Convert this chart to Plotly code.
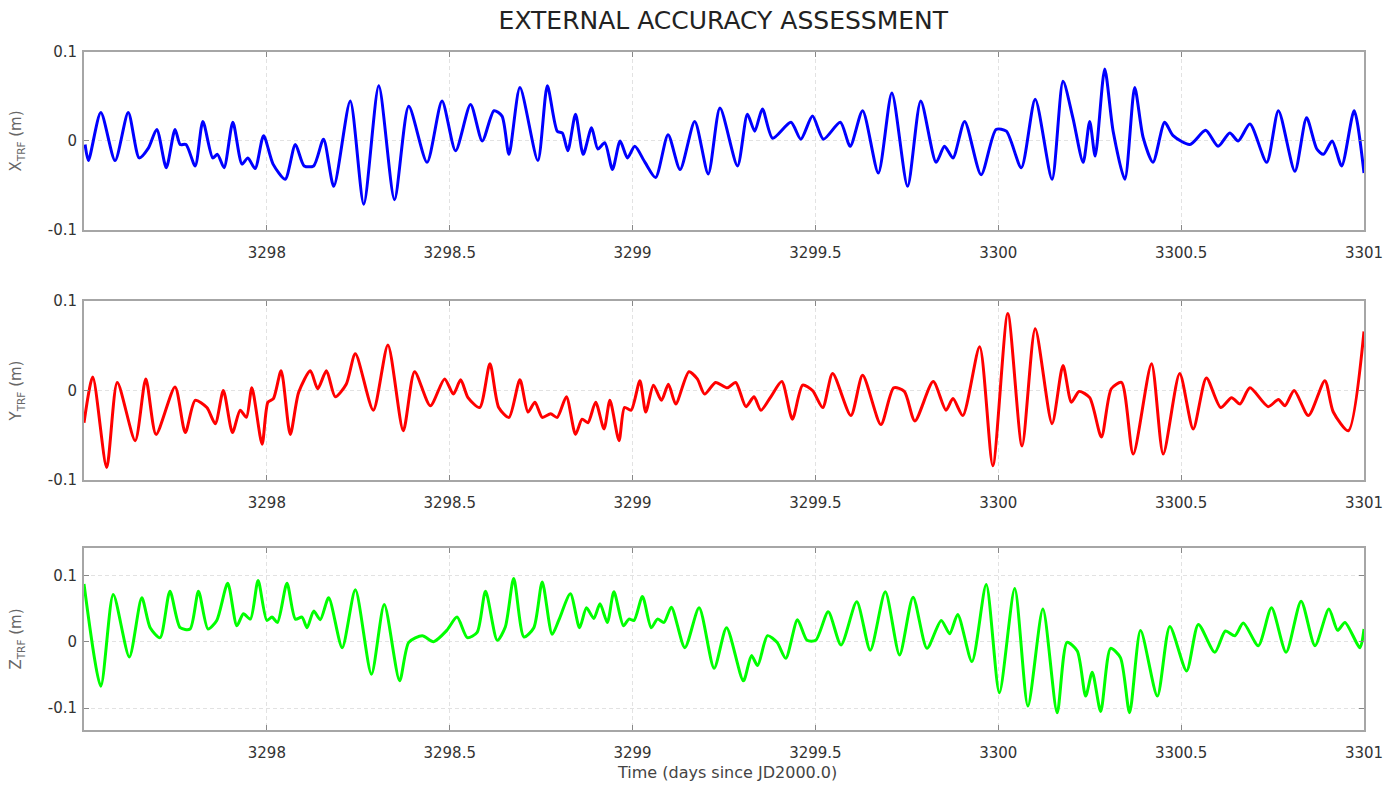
import plotly.graph_objects as go

# ---------------- data (time in days since JD2000.0, residuals in m) ----------------
t_x = [3297.503, 3297.512, 3297.546, 3297.585, 3297.621, 3297.651, 3297.676, 3297.699, 3297.725, 3297.749,
       3297.763, 3297.779, 3297.804, 3297.825, 3297.852, 3297.865, 3297.883, 3297.907, 3297.932, 3297.948,
       3297.968, 3297.991, 3298.017, 3298.050, 3298.078, 3298.102, 3298.128, 3298.155, 3298.183, 3298.228,
       3298.265, 3298.306, 3298.349, 3298.388, 3298.438, 3298.479, 3298.516, 3298.557, 3298.589, 3298.621,
       3298.643, 3298.662, 3298.692, 3298.741, 3298.767, 3298.794, 3298.808, 3298.823, 3298.844, 3298.865,
       3298.888, 3298.905, 3298.924, 3298.945, 3298.966, 3298.986, 3299.006, 3299.034, 3299.063, 3299.097,
       3299.130, 3299.170, 3299.207, 3299.239, 3299.287, 3299.314, 3299.334, 3299.355, 3299.383, 3299.433,
       3299.460, 3299.492, 3299.522, 3299.568, 3299.595, 3299.629, 3299.672, 3299.709, 3299.752, 3299.788,
       3299.830, 3299.853, 3299.876, 3299.908, 3299.953, 3299.994, 3300.022, 3300.063, 3300.101, 3300.147,
       3300.177, 3300.204, 3300.232, 3300.250, 3300.265, 3300.291, 3300.314, 3300.346, 3300.373, 3300.396,
       3300.423, 3300.455, 3300.478, 3300.524, 3300.567, 3300.601, 3300.633, 3300.656, 3300.688, 3300.734,
       3300.766, 3300.811, 3300.843, 3300.871, 3300.889, 3300.913, 3300.939, 3300.973, 3301.000]
x_trf = [-0.004, -0.022, 0.032, -0.022, 0.032, -0.019, -0.008, 0.013, -0.030, 0.013,
         -0.004, -0.004, -0.028, 0.022, -0.019, -0.015, -0.030, 0.021, -0.026, -0.019,
         -0.031, 0.006, -0.026, -0.043, -0.004, -0.028, -0.028, 0.002, -0.051, 0.045,
         -0.071, 0.062, -0.066, 0.039, -0.024, 0.045, -0.011, 0.041, 0.000, 0.034,
         0.028, -0.015, 0.060, -0.022, 0.062, 0.011, 0.009, -0.011, 0.030, -0.015,
         0.015, -0.009, -0.002, -0.032, 0.000, -0.019, -0.006, -0.024, -0.041, 0.007,
         -0.032, 0.022, -0.037, 0.037, -0.028, 0.030, 0.011, 0.036, 0.003, 0.021,
         0.002, 0.028, 0.002, 0.021, -0.006, 0.034, -0.036, 0.054, -0.051, 0.045,
         -0.024, -0.006, -0.019, 0.022, -0.038, 0.013, 0.011, -0.030, 0.047, -0.043,
         0.067, 0.026, -0.024, 0.022, -0.017, 0.081, 0.011, -0.043, 0.060, 0.004,
         -0.024, 0.021, 0.006, -0.004, 0.012, -0.006, 0.009, 0.000, 0.019, -0.024,
         0.034, -0.034, 0.026, -0.009, -0.015, 0.000, -0.028, 0.034, -0.036]

t_y = [3297.500, 3297.524, 3297.562, 3297.591, 3297.640, 3297.669, 3297.697, 3297.749, 3297.777, 3297.804,
       3297.836, 3297.859, 3297.881, 3297.906, 3297.927, 3297.944, 3297.959, 3297.987, 3298.003, 3298.018,
       3298.039, 3298.064, 3298.087, 3298.119, 3298.139, 3298.163, 3298.187, 3298.217, 3298.242, 3298.291,
       3298.331, 3298.373, 3298.404, 3298.447, 3298.486, 3298.510, 3298.530, 3298.550, 3298.582, 3298.610,
       3298.634, 3298.662, 3298.692, 3298.714, 3298.733, 3298.753, 3298.776, 3298.794, 3298.819, 3298.844,
       3298.862, 3298.878, 3298.899, 3298.922, 3298.938, 3298.963, 3298.978, 3298.996, 3299.020, 3299.036,
       3299.057, 3299.079, 3299.098, 3299.118, 3299.154, 3299.177, 3299.197, 3299.227, 3299.259, 3299.282,
       3299.310, 3299.332, 3299.351, 3299.378, 3299.408, 3299.437, 3299.465, 3299.492, 3299.520, 3299.547,
       3299.597, 3299.629, 3299.679, 3299.714, 3299.743, 3299.772, 3299.822, 3299.857, 3299.876, 3299.903,
       3299.949, 3299.985, 3300.026, 3300.065, 3300.101, 3300.147, 3300.177, 3300.200, 3300.221, 3300.250,
       3300.282, 3300.309, 3300.337, 3300.369, 3300.419, 3300.451, 3300.496, 3300.533, 3300.569, 3300.608,
       3300.638, 3300.661, 3300.688, 3300.738, 3300.766, 3300.784, 3300.809, 3300.848, 3300.893, 3300.916,
       3300.957, 3301.000]
y_trf = [-0.036, 0.015, -0.086, 0.009, -0.056, 0.013, -0.049, 0.004, -0.047, -0.011,
         -0.019, -0.037, 0.000, -0.047, -0.022, -0.030, 0.003, -0.060, -0.013, -0.009,
         0.022, -0.049, -0.002, 0.022, 0.002, 0.022, -0.007, 0.007, 0.041, -0.022,
         0.051, -0.045, 0.021, -0.017, 0.013, -0.004, 0.012, -0.008, -0.019, 0.030,
         -0.019, -0.030, 0.012, -0.024, -0.013, -0.030, -0.026, -0.030, -0.007, -0.049,
         -0.032, -0.036, -0.013, -0.043, -0.011, -0.056, -0.019, -0.022, 0.011, -0.024,
         0.006, -0.011, 0.007, -0.015, 0.021, 0.013, -0.004, 0.009, 0.003, 0.009,
         -0.018, -0.007, -0.022, -0.007, 0.010, -0.032, 0.006, 0.000, -0.019, 0.019,
         -0.028, 0.017, -0.038, 0.003, -0.001, -0.034, 0.010, -0.022, -0.009, -0.028,
         0.049, -0.084, 0.086, -0.062, 0.069, -0.037, 0.028, -0.013, -0.001, -0.008,
         -0.052, 0.002, 0.009, -0.071, 0.030, -0.071, 0.019, -0.043, 0.014, -0.019,
         -0.008, -0.015, 0.003, -0.018, -0.010, -0.017, 0.000, -0.028, 0.011, -0.024,
         -0.045, 0.066]

t_z = [3297.500, 3297.546, 3297.580, 3297.624, 3297.658, 3297.681, 3297.708, 3297.735, 3297.763, 3297.790,
       3297.813, 3297.839, 3297.863, 3297.893, 3297.918, 3297.936, 3297.955, 3297.976, 3298.000, 3298.014,
       3298.029, 3298.055, 3298.078, 3298.096, 3298.110, 3298.128, 3298.146, 3298.169, 3298.206, 3298.242,
       3298.286, 3298.321, 3298.363, 3298.388, 3298.425, 3298.456, 3298.492, 3298.520, 3298.548, 3298.575,
       3298.598, 3298.630, 3298.652, 3298.675, 3298.703, 3298.730, 3298.753, 3298.780, 3298.798, 3298.830,
       3298.855, 3298.874, 3298.894, 3298.911, 3298.931, 3298.949, 3298.975, 3298.990, 3299.004, 3299.027,
       3299.051, 3299.068, 3299.086, 3299.106, 3299.143, 3299.182, 3299.223, 3299.257, 3299.303, 3299.325,
       3299.342, 3299.369, 3299.395, 3299.419, 3299.451, 3299.477, 3299.501, 3299.535, 3299.570, 3299.613,
       3299.650, 3299.691, 3299.730, 3299.767, 3299.805, 3299.844, 3299.867, 3299.889, 3299.928, 3299.967,
       3300.003, 3300.045, 3300.081, 3300.122, 3300.161, 3300.188, 3300.216, 3300.239, 3300.257, 3300.280,
       3300.307, 3300.334, 3300.359, 3300.389, 3300.435, 3300.469, 3300.515, 3300.547, 3300.592, 3300.621,
       3300.647, 3300.670, 3300.711, 3300.747, 3300.787, 3300.828, 3300.866, 3300.904, 3300.928, 3300.948,
       3300.989, 3301.000]
z_trf = [0.087, -0.067, 0.071, -0.023, 0.066, 0.021, 0.006, 0.076, 0.021, 0.019,
         0.076, 0.019, 0.032, 0.088, 0.024, 0.042, 0.034, 0.092, 0.032, 0.037,
         0.029, 0.088, 0.034, 0.037, 0.021, 0.046, 0.033, 0.066, -0.009, 0.078,
         -0.049, 0.056, -0.059, -0.001, 0.009, 0.000, 0.017, 0.037, 0.006, 0.014,
         0.076, 0.002, 0.022, 0.095, 0.007, 0.021, 0.090, 0.011, 0.032, 0.072,
         0.021, 0.051, 0.035, 0.057, 0.029, 0.075, 0.024, 0.034, 0.032, 0.068,
         0.021, 0.034, 0.029, 0.052, -0.009, 0.051, -0.040, 0.021, -0.059, -0.021,
         -0.036, 0.009, -0.001, -0.025, 0.033, 0.002, 0.002, 0.045, -0.005, 0.060,
         -0.013, 0.075, -0.020, 0.067, -0.010, 0.032, 0.012, 0.041, -0.030, 0.086,
         -0.077, 0.080, -0.097, 0.049, -0.107, -0.001, -0.014, -0.082, -0.046, -0.105,
         -0.010, -0.024, -0.107, 0.017, -0.082, 0.023, -0.044, 0.026, -0.016, 0.016,
         0.009, 0.028, -0.006, 0.051, -0.016, 0.061, -0.006, 0.049, 0.017, 0.029,
         -0.009, 0.019]

x_ticks = [3298, 3298.5, 3299, 3299.5, 3300, 3300.5, 3301]
x_ticktext = ["3298", "3298.5", "3299", "3299.5", "3300", "3300.5", "3301"]
y_ticks = [-0.1, 0, 0.1]
y_ticktext = ["-0.1", "0", "0.1"]

series = [
    ("X<sub>TRF</sub> (m)", t_x, x_trf, "#0000ff"),
    ("Y<sub>TRF</sub> (m)", t_y, y_trf, "#ff0000"),
    ("Z<sub>TRF</sub> (m)", t_z, z_trf, "#00ff00"),
]

# ---------------- figure ----------------
W, H = 1387, 785
FONT = "DejaVu Sans, Liberation Sans, Arial, sans-serif"
fig = go.Figure()

domains = [[0.7375, 1.0], [0.3687, 0.6327], [0.0, 0.2684]]
yranges = [[-0.1, 0.1], [-0.1, 0.1], [-0.133, 0.141]]

for i, (label, tt, vv, col) in enumerate(series):
    n = "" if i == 0 else str(i + 1)
    fig.add_trace(go.Scatter(
        x=tt, y=vv, mode="lines",
        line=dict(color=col, width=3, shape="spline", smoothing=0.7),
        xaxis="x" + n, yaxis="y" + n, showlegend=False, hoverinfo="x+y"))

    axis_common = dict(
        showline=True, linecolor="#a6a6a6", linewidth=2, mirror="ticks",
        ticks="inside", ticklen=5, tickwidth=1, tickcolor="#888888",
        showgrid=True, gridcolor="#e2e2e2", gridwidth=1, griddash="4px,3px",
        zeroline=False, automargin=False, ticklabeloverflow="allow",
        tickfont=dict(family=FONT, size=15, color="#333333"),
    )
    fig.layout["xaxis" + n] = dict(
        axis_common, domain=[0, 1], anchor="y" + n,
        range=[3297.5, 3301], tickmode="array",
        tickvals=x_ticks, ticktext=x_ticktext, ticklabelstandoff=8,
    )
    fig.layout["yaxis" + n] = dict(
        axis_common, domain=domains[i], anchor="x" + n,
        range=yranges[i], tickmode="array",
        tickvals=y_ticks, ticktext=y_ticktext, ticklabelstandoff=2,
        title=dict(text=label, standoff=22,
                   font=dict(family=FONT, size=15, color="#666666")),
    )

fig.add_annotation(
    text="Time (days since JD2000.0)", xref="paper", yref="paper",
    x=0.502, y=-0.0634, xanchor="center", yanchor="middle", showarrow=False,
    font=dict(family=FONT, size=16, color="#444444"))

fig.update_layout(
    width=W, height=H, autosize=False,
    margin=dict(l=84, r=23, t=52, b=55),
    paper_bgcolor="white", plot_bgcolor="white",
    title=dict(text="EXTERNAL ACCURACY ASSESSMENT", x=0.5215, xanchor="center",
               y=0.9745, yanchor="middle",
               font=dict(family=FONT, size=25, color="#222222")),
)

# remove the browser's default 8px body margin so the figure fills the window exactly
fig.write_html("out.html", config={"displayModeBar": False},
               post_script="document.body.style.margin='0px';")
